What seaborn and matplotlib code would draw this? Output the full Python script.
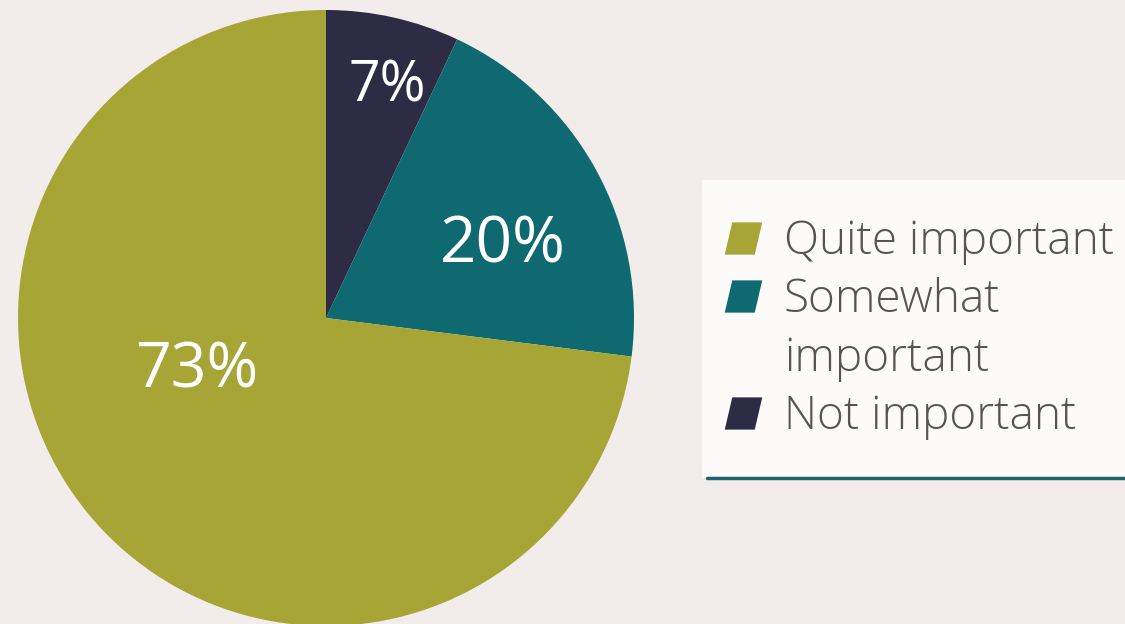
import matplotlib
matplotlib.use("Agg")
import matplotlib.pyplot as plt
import seaborn as sns
from matplotlib.lines import Line2D
from matplotlib.path import Path
from matplotlib.patches import Rectangle

sns.set_theme(style="white")
plt.rcParams['font.family'] = ['Open Sans', 'DejaVu Sans']

# Data
categories = ["Not important", "Somewhat important", "Quite important"]
values = [7, 20, 73]
pct_labels = ["7%", "20%", "73%"]
legend_keys = ["Quite important", "Somewhat important", "Not important"]
legend_text = ["Quite important", "Somewhat\nimportant", "Not important"]

colors = {"Not important": "#2E2B45",
          "Somewhat important": "#0E6970",
          "Quite important": "#A8A537"}
bg = "#F2ECEA"

W, H = 1125, 624
fig = plt.figure(figsize=(W / 100, H / 100), dpi=100, facecolor=bg)

cx, cy, r = 326, 318, 308
ax = fig.add_axes([(cx - r) / W, (H - cy - r) / H, 2 * r / W, 2 * r / H])
ax.set_facecolor(bg)
ax.pie(values, colors=[colors[c] for c in categories], startangle=90,
       counterclock=False, radius=1.0,
       wedgeprops=dict(linewidth=0))
ax.set_xlim(-1, 1)
ax.set_ylim(-1, 1)
ax.set_aspect("equal")
ax.axis("off")

label_pos = [(0.2, 0.75), (0.575, 0.237), (-0.419, -0.172)]
label_size = [40, 46, 45]
for (x, y), t, s in zip(label_pos, pct_labels, label_size):
    ax.text(x, y, t, ha="center", va="center", color="white", fontsize=s)

# Legend background box and teal underline
fig.patches.append(Rectangle((702 / W, (H - 478) / H), (W - 702) / W, (478 - 180) / H,
                             transform=fig.transFigure, facecolor="#FDFBFA",
                             edgecolor="none", zorder=0))
fig.lines.append(Line2D([707 / W, 1.0], [(H - 478) / H] * 2, transform=fig.transFigure,
                        color="#1E6470", linewidth=2.5))

para = Path([(-0.5, -0.43), (0.3, -0.43), (0.5, 0.43), (-0.3, 0.43), (-0.5, -0.43)],
            [Path.MOVETO, Path.LINETO, Path.LINETO, Path.LINETO, Path.CLOSEPOLY])

# one legend row per text line; the marker sits on the first line of each entry
handles, labels = [], []
for key, txt in zip(legend_keys, legend_text):
    for i, line in enumerate(txt.split("\n")):
        if i == 0:
            h = Line2D([], [], marker=para, linestyle="none", markersize=27,
                       markerfacecolor=colors[key], markeredgewidth=0)
        else:
            h = Line2D([], [], linestyle="none", marker=None)
        handles.append(h)
        labels.append(line)

leg = fig.legend(handles, labels, loc="upper left",
                 bbox_to_anchor=(715 / W, (H - 219) / H), frameon=False,
                 labelcolor="#555555", handlelength=1.2,
                 handletextpad=0.3, labelspacing=0.27, borderpad=0,
                 borderaxespad=0,
                 prop={"weight": "light", "size": 33})

fig.savefig("out.png", dpi=100, facecolor=bg)
